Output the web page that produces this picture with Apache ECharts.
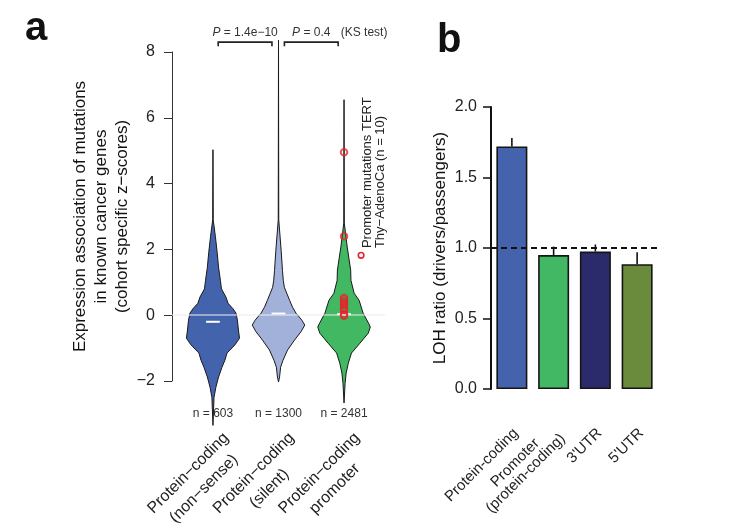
<!DOCTYPE html>
<html><head><meta charset="utf-8">
<script src="https://cdn.jsdelivr.net/npm/echarts@6/dist/echarts.min.js"></script>
<style>html,body{margin:0;padding:0;background:#fff}#c{width:733px;height:531px}</style>
</head><body><div id="c"></div>
<script>
// ---- Panel a data ----
const violinCats = ['Protein\u2212coding\n(non\u2212sense)', 'Protein\u2212coding\n(silent)', 'Protein\u2212coding\npromoter'];
const violinN = ['n = 603', 'n = 1300', 'n = 2481'];
const violinMedians = [-0.2, 0.05, 0.03];
const v1Z = [5.03, 2.9, 2.4, 1.9, 1.46, 1.06, 0.8, 0.55, 0.36, 0.2, 0.06, -0.15, -0.45, -0.7, -0.9, -1.15, -1.37, -1.58, -1.88, -2.19, -2.5, -3.35];
const v1D = [0, 1, 9, 16, 21, 28, 32, 49, 57, 75, 87, 92, 96, 100, 83, 53, 45, 34, 21, 11, 4, 0];
const v2Z = [8.36, 2.9, 1.97, 1.36, 1.06, 0.85, 0.67, 0.45, 0.24, 0.06, -0.15, -0.3, -0.5, -0.76, -1.06, -1.37, -1.58, -1.88, -2.03];
const v2D = [0, 1, 10, 15, 18, 22, 31, 42, 53, 66, 88, 99, 85, 60, 34, 17, 8, 4, 0];
const v3Z = [6.55, 2.8, 2.07, 1.37, 1.06, 0.67, 0.45, 0.06, -0.24, -0.36, -0.55, -0.85, -1.15, -1.46, -1.76, -2.07, -2.67];
const v3D = [0, 1, 12, 25, 26, 38, 57, 72, 92, 99, 91, 60, 28, 16, 8, 4, 0];
const tertZ = [4.95, 2.4, 0.52, 0.45, 0.38, 0.3, 0.22, 0.15, 0.03, -0.02];
const pValues = ['1.4e\u221210', '0.4'];

// ---- Panel b data ----
const barCats = ['Protein-coding', 'Promoter\n(protein-coding)', "3'UTR", "5'UTR"];
const barValues = [1.72, 0.95, 0.975, 0.885];
const barErrTop = [1.78, 1.01, 1.025, 0.97];
const refLine = 1.0;

// ---- styling ----
const FONT = "'Liberation Sans', Arial, Helvetica, sans-serif";
const violinColors = ['#4463ad', '#a2b1d9', '#41b861'];
const barColors = ['#4563ad', '#42b865', '#2b2a6b', '#6a8b3c'];
const violinZ = [v1Z, v2Z, v3Z];
const violinD = [v1D, v2D, v3D];

const chart = echarts.init(document.getElementById('c'), null, {renderer: 'canvas'});

function violinItem(params, api) {
  const i = params.dataIndex;
  const x = i + 1;
  const zs = violinZ[i], ds = violinD[i];
  const maxHalf = api.size([0.405, 0])[0];
  const right = [], left = [];
  for (let k = 0; k < zs.length; k++) {
    const p = api.coord([x, zs[k]]);
    const h = ds[k] / 100 * maxHalf;
    right.push([p[0] + h, p[1]]);
    left.unshift([p[0] - h, p[1]]);
  }
  const m = api.coord([x, violinMedians[i]]);
  const mh = api.size([0.105, 0])[0];
  const nPos = api.coord([x, -3.0]);
  return {type: 'group', children: [
    {type: 'polygon', shape: {points: right.concat(left)}, style: {fill: violinColors[i], stroke: '#1a1a1a', lineWidth: 1}},
    {type: 'line', shape: {x1: m[0] - mh, y1: m[1], x2: m[0] + mh, y2: m[1]}, style: {stroke: '#ffffff', lineWidth: 2}},
    {type: 'text', x: nPos[0], y: nPos[1], style: {text: violinN[i], fill: '#333', font: '12px ' + FONT, align: 'center', verticalAlign: 'middle'}}
  ]};
}

function annotItem(params, api) {
  const children = [];
  const br = [[1.08, 1.9], [2.09, 2.91]];
  br.forEach((b, j) => {
    const a = api.coord([b[0], 8.3]), c = api.coord([b[1], 8.3]);
    const tip = 4;
    children.push({type: 'polyline', shape: {points: [[a[0], a[1] + tip], [a[0], a[1]], [c[0], c[1]], [c[0], c[1] + tip]]}, style: {stroke: '#222', lineWidth: 1.6, fill: null}});
    const t = api.coord([(b[0] + b[1]) / 2, 8.6]);
    children.push({type: 'text', x: t[0], y: t[1], style: {text: '{i|P} = ' + pValues[j], rich: {i: {font: 'italic 12px ' + FONT, fill: '#333'}}, font: '12px ' + FONT, fill: '#333', align: 'center', verticalAlign: 'middle'}});
  });
  const ks = api.coord([2.95, 8.6]);
  children.push({type: 'text', x: ks[0], y: ks[1], style: {text: '(KS test)', font: '12px ' + FONT, fill: '#333', align: 'left', verticalAlign: 'middle'}});
  // legend for TERT points
  const lc = api.coord([3.26, 1.82]);
  children.push({type: 'circle', shape: {cx: lc[0], cy: lc[1], r: 2.8}, style: {fill: 'rgba(0,0,0,0)', stroke: '#e4262b', lineWidth: 1.6}});
  const lt = api.coord([3.46, 2.04]);
  children.push({type: 'text', x: lt[0], y: lt[1], rotation: Math.PI / 2, style: {text: 'Promoter mutations TERT\nThy\u2212AdenoCa (n = 10)', font: '13px ' + FONT, lineHeight: 13, fill: '#222', align: 'left', verticalAlign: 'middle'}});
  return {type: 'group', children};
}

function errItem(params, api) {
  const i = params.dataIndex;
  const a = api.coord([i, barValues[i]]), b = api.coord([i, barErrTop[i]]);
  return {type: 'line', shape: {x1: a[0], y1: a[1], x2: b[0], y2: b[1]}, style: {stroke: '#111', lineWidth: 1.6}};
}

const richFmt = v => v.split('\n').map(s => '{c|' + s + '}').join('\n');

const option = {
  backgroundColor: '#ffffff',
  animation: false,
  textStyle: {fontFamily: FONT},
  title: [
    {text: 'a', left: 25, top: 9, padding: 0, textStyle: {fontSize: 40, fontWeight: 'bold', color: '#111', fontFamily: FONT}},
    {text: 'b', left: 437, top: 21, padding: 0, textStyle: {fontSize: 40, fontWeight: 'bold', color: '#111', fontFamily: FONT}}
  ],
  grid: [
    {left: 172, top: 52, width: 213, height: 329, containLabel: false, outerBoundsMode: 'none'},
    {left: 491, top: 107, width: 167, height: 282, containLabel: false, outerBoundsMode: 'none'},
    {left: 201.25, top: 52, width: 196.5, height: 383, containLabel: false, outerBoundsMode: 'none'},
    {left: 495, top: 107, width: 167, height: 282, containLabel: false, outerBoundsMode: 'none'}
  ],
  xAxis: [
    {type: 'value', gridIndex: 0, min: 0.375, max: 3.625, show: false, splitLine: {show: false}},
    {type: 'category', gridIndex: 1, data: barCats, axisLine: {show: false}, axisTick: {show: false},
     axisLabel: {show: false}},
    {type: 'category', gridIndex: 2, data: violinCats, axisLine: {show: false}, axisTick: {show: false},
     axisLabel: {interval: 0, rotate: 45, margin: 8, fontSize: 16, color: '#222', fontFamily: FONT,
       formatter: richFmt,
       rich: {c: {align: 'center', fontSize: 16, color: '#222', fontFamily: FONT, lineHeight: 22}}}},
    {type: 'category', gridIndex: 3, data: barCats, axisLine: {show: false}, axisTick: {show: false},
     axisLabel: {interval: 0, rotate: 45, margin: 42, fontSize: 15, color: '#222', fontFamily: FONT,
       formatter: richFmt,
       rich: {c: {align: 'center', fontSize: 15, color: '#222', fontFamily: FONT, lineHeight: 15}}}}
  ],
  yAxis: [
    {type: 'value', gridIndex: 0, min: -2, max: 8, interval: 2,
     name: 'Expression association of mutations\nin known cancer genes\n(cohort specific z\u2212scores)',
     nameLocation: 'middle', nameGap: 38, nameTextStyle: {fontSize: 17, lineHeight: 21, color: '#111', fontFamily: FONT},
     axisLine: {show: true, lineStyle: {color: '#333', width: 1}},
     axisTick: {show: true, length: 8, lineStyle: {color: '#333', width: 1}},
     axisLabel: {margin: 17, fontSize: 16, color: '#222', fontFamily: FONT, formatter: v => String(v).replace('-', '\u2212')},
     splitLine: {show: false}},
    {type: 'value', gridIndex: 1, min: 0, max: 2, interval: 0.5,
     name: 'LOH ratio (drivers/passengers)', nameLocation: 'middle', nameGap: 42,
     nameTextStyle: {fontSize: 17, color: '#111', fontFamily: FONT},
     axisLine: {show: true, lineStyle: {color: '#111', width: 2}},
     axisTick: {show: true, length: 8, lineStyle: {color: '#111', width: 1.5}},
     axisLabel: {margin: 14, fontSize: 16, color: '#222', fontFamily: FONT, formatter: v => v.toFixed(1)},
     splitLine: {show: false}},
    {type: 'value', gridIndex: 2, show: false, splitLine: {show: false}},
    {type: 'value', gridIndex: 3, show: false, splitLine: {show: false}}
  ],
  series: [
    {type: 'custom', name: 'violins', xAxisIndex: 0, yAxisIndex: 0, clip: false, z: 2,
     data: violinMedians.map((m, i) => [i + 1, m]), renderItem: violinItem,
     markLine: {silent: true, symbol: 'none', label: {show: false}, z: 5,
       lineStyle: {color: 'rgba(235,235,235,0.7)', width: 1.5, type: 'solid'}, data: [{yAxis: 0}]}},
    {type: 'scatter', name: 'TERT', xAxisIndex: 0, yAxisIndex: 0, z: 6,
     data: tertZ.map(z => [3, z]), symbol: 'circle', symbolSize: 6.5,
     itemStyle: {color: 'rgba(0,0,0,0)', borderColor: '#e4262b', borderWidth: 2}},
    {type: 'custom', name: 'annot', xAxisIndex: 0, yAxisIndex: 0, clip: false, z: 7,
     data: [[1, 0]], renderItem: annotItem},
    {type: 'bar', name: 'LOH', xAxisIndex: 1, yAxisIndex: 1, barWidth: 31, z: 2,
     data: barValues.map((v, i) => ({value: v, itemStyle: {color: barColors[i]}})),
     itemStyle: {borderColor: '#151515', borderWidth: 1.6},
     markLine: {silent: true, symbol: 'none', label: {show: false}, z: 8,
       lineStyle: {color: '#111', width: 2, type: [6, 4]}, data: [{yAxis: refLine}]}},
    {type: 'custom', name: 'err', xAxisIndex: 1, yAxisIndex: 1, clip: false, z: 3,
     data: barValues.map((v, i) => [i, v]), renderItem: errItem}
  ]
};
chart.setOption(option);
</script></body></html>
